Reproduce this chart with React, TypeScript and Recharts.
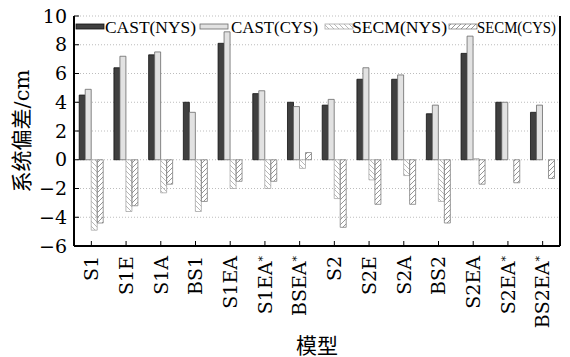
import React from 'react';
import { BarChart, Bar, XAxis, YAxis, CartesianGrid, Customized } from 'recharts';

const categories = ['S1', 'S1E', 'S1A', 'BS1', 'S1EA', 'S1EA*', 'BSEA*', 'S2', 'S2E', 'S2A', 'BS2', 'S2EA', 'S2EA*', 'BS2EA*'];
const castNYS = [4.5, 6.4, 7.3, 4.0, 8.1, 4.6, 4.0, 3.8, 5.6, 5.6, 3.2, 7.4, 4.0, 3.3];
const castCYS = [4.9, 7.2, 7.5, 3.3, 8.9, 4.8, 3.7, 4.2, 6.4, 5.9, 3.8, 8.6, 4.0, 3.8];
const secmNYS = [-4.9, -3.6, -2.3, -3.6, -2.0, -2.0, -0.6, -2.7, -1.4, -1.1, -2.9, 0.08, 0, 0];
const secmCYS = [-4.4, -3.2, -1.7, -2.9, -1.5, -1.5, 0.5, -4.7, -3.1, -3.1, -4.4, -1.7, -1.6, -1.3];
const yTicks = [-6, -4, -2, 0, 2, 4, 6, 8, 10];
const legendLabels = ['CAST(NYS)', 'CAST(CYS)', 'SECM(NYS)', 'SECM(CYS)'];

const data = categories.map((name, i) => ({
  name,
  castNYS: castNYS[i],
  castCYS: castCYS[i],
  secmNYS: secmNYS[i],
  secmCYS: secmCYS[i],
}));

const SERIF = "'DejaVu Serif', serif";
const TIMES = "'Liberation Serif', 'DejaVu Serif', serif";
const MIXED = "'DejaVu Serif', 'Noto Sans CJK SC', serif";

const styles = [
  { fill: '#404040', stroke: '#111' },
  { fill: '#e2e2e2', stroke: '#6a6a6a' },
  { fill: 'url(#hatchNYS)', stroke: '#a8a8a8' },
  { fill: 'url(#hatchCYS)', stroke: '#808080' },
];

const legendLayout = [
  { sx: 76, tx: 105, tw: 91 },
  { sx: 200, tx: 231, tw: 87 },
  { sx: 325, tx: 352, tw: 95 },
  { sx: 449, tx: 477, tw: 79 },
];

const fmt = (v: number) => (v < 0 ? '\u2212' + Math.abs(v) : String(v));

const XTick = (props: any) => {
  const { x, y, payload } = props;
  const v: string = String(payload.value);
  const star = v.endsWith('*');
  const base = star ? v.slice(0, -1) : v;
  return (
    <g transform={`translate(${x},${y})`}>
      <text transform="rotate(-90)" x={0} y={0} dy="0.36em" textAnchor="end" style={{ fontFamily: SERIF }} fontSize={19} fill="#000">
        {base}
        {star && (
          <tspan fontSize={11} dy="-0.55em">*</tspan>
        )}
      </text>
    </g>
  );
};

const Empty = () => <g />;

const LegendSvg = () => (
  <g>
    <defs>
      <pattern id="hatchNYS" patternUnits="userSpaceOnUse" width="5" height="5">
        <path d="M0,0 L5,5 M-1,4 L1,6 M4,-1 L6,1" stroke="#b0b0b0" strokeWidth={0.9} />
      </pattern>
      <pattern id="hatchCYS" patternUnits="userSpaceOnUse" width="5" height="5">
        <path d="M0,5 L5,0 M-1,1 L1,-1 M4,6 L6,4" stroke="#8a8a8a" strokeWidth={0.9} />
      </pattern>
    </defs>
    {legendLabels.map((label, i) => (
      <g key={label}>
        <rect x={legendLayout[i].sx} y={24} width={28} height={5} fill={styles[i].fill} stroke={styles[i].stroke} strokeWidth={0.8} />
        <text x={legendLayout[i].tx} y={33} style={{ fontFamily: TIMES }} fontSize={17} fill="#000" textLength={legendLayout[i].tw} lengthAdjust="spacingAndGlyphs">
          {label}
        </text>
      </g>
    ))}
  </g>
);

export default function App() {
  return (
    <div style={{ position: 'absolute', left: 0, top: 0, width: 570, height: 357, background: '#fff' }}>
      <BarChart
        width={570}
        height={357}
        data={data}
        margin={{ top: 16, right: 0, left: 0, bottom: 0 }}
        barGap={0}
        barCategoryGap="15%"
      >
        <CartesianGrid vertical={false} stroke="#bdbdbd" strokeDasharray="1 2" />
        <XAxis
          dataKey="name"
          height={111}
          interval={0}
          tickSize={-5}
          tickMargin={15}
          tick={<XTick />}
          tickLine={{ stroke: '#000' }}
          axisLine={{ stroke: '#000', strokeWidth: 2 }}
          label={(p: any) => {
            const vb = p.viewBox;
            return (
              <text x={vb.x + vb.width / 2} y={vb.y + 107} textAnchor="middle" style={{ fontFamily: MIXED }} fontSize={21} fill="#000">
                模型
              </text>
            );
          }}
        />
        <XAxis
          xAxisId="top"
          dataKey="name"
          orientation="top"
          height={0}
          interval={0}
          tickSize={-5}
          tick={<Empty />}
          tickLine={{ stroke: '#000' }}
          axisLine={{ stroke: '#000', strokeWidth: 2 }}
        />
        <YAxis
          width={74}
          domain={[-6, 10]}
          ticks={yTicks}
          interval={0}
          tickSize={-5}
          tickMargin={12}
          tickFormatter={fmt}
          tick={{ fill: '#000', fontSize: 19, style: { fontFamily: SERIF } }}
          tickLine={{ stroke: '#000' }}
          axisLine={{ stroke: '#000', strokeWidth: 2 }}
          label={(p: any) => {
            const vb = p.viewBox;
            const cx = 22;
            const cy = vb.y + vb.height / 2;
            return (
              <text x={cx} y={cy} transform={`rotate(-90, ${cx}, ${cy})`} dy="0.35em" textAnchor="middle" style={{ fontFamily: MIXED }} fontSize={21} fill="#000">
                系统偏差/cm
              </text>
            );
          }}
        />
        <YAxis
          yAxisId="right"
          orientation="right"
          width={10}
          domain={[-6, 10]}
          ticks={yTicks}
          interval={0}
          tickSize={-5}
          tick={<Empty />}
          tickLine={{ stroke: '#000' }}
          axisLine={{ stroke: '#000', strokeWidth: 2 }}
        />
        <Bar dataKey="castNYS" name={legendLabels[0]} fill={styles[0].fill} stroke={styles[0].stroke} strokeWidth={0.8} isAnimationActive={false} />
        <Bar dataKey="castCYS" name={legendLabels[1]} fill={styles[1].fill} stroke={styles[1].stroke} strokeWidth={0.8} isAnimationActive={false} />
        <Bar dataKey="secmNYS" name={legendLabels[2]} fill={styles[2].fill} stroke={styles[2].stroke} strokeWidth={0.8} isAnimationActive={false} />
        <Bar dataKey="secmCYS" name={legendLabels[3]} fill={styles[3].fill} stroke={styles[3].stroke} strokeWidth={0.8} isAnimationActive={false} />
        <Customized component={LegendSvg} />
      </BarChart>
    </div>
  );
}
